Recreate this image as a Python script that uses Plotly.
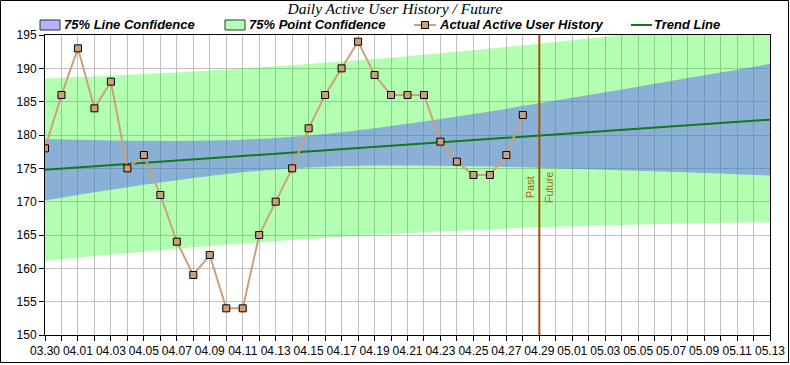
import plotly.graph_objects as go
import pandas as pd

# ---- data ----
start_date = "2023-03-30"
active_users = [178, 186, 193, 184, 188, 175, 177, 171, 164, 159,
                162, 154, 154, 165, 170, 175, 181, 186, 190, 194,
                189, 186, 186, 186, 179, 176, 174, 174, 177, 183]

band_start = "2023-03-30"
line_conf_upper = [179.40, 179.28, 179.18, 179.12, 179.11, 179.16, 179.30, 179.55,
                   179.92, 180.41, 181.00, 181.67, 182.39, 183.15, 183.93, 184.75,
                   185.57, 186.41, 187.25, 188.09, 188.95, 189.80, 190.67]
line_conf_lower = [170.20, 171.00, 171.78, 172.52, 173.21, 173.86, 174.40, 174.83,
                   175.14, 175.33, 175.42, 175.43, 175.39, 175.31, 175.21, 175.09,
                   174.95, 174.79, 174.63, 174.47, 174.29, 174.12, 173.93]
point_conf_upper = [188.49, 188.69, 188.90, 189.14, 189.39, 189.68, 189.98, 190.30,
                    190.65, 191.02, 191.41, 191.82, 192.26, 192.71, 193.19, 193.69,
                    194.21, 194.75, 195.30, 195.87, 196.46, 197.06, 197.68]
point_conf_lower = [161.11, 161.59, 162.06, 162.50, 162.93, 163.34, 163.72, 164.08,
                    164.41, 164.72, 165.01, 165.28, 165.52, 165.75, 165.95, 166.15,
                    166.31, 166.45, 166.58, 166.69, 166.78, 166.86, 166.92]

trend_dates = ["2023-03-30", "2023-05-13"]
trend_values = [174.8, 182.3]

split_date = "2023-04-29"
y_ticks = [150, 155, 160, 165, 170, 175, 180, 185, 190, 195]
legend_labels = ["75% Line Confidence", "75% Point Confidence",
                 "Actual Active User History", "Trend Line"]

dates = pd.date_range(start_date, periods=len(active_users), freq="D")
band_dates = list(pd.date_range(band_start, periods=len(line_conf_upper), freq="2D"))

FONT = "Arial, Liberation Sans, sans-serif"
TICKFONT = "Liberation Sans Narrow, Arial Narrow, Arial, sans-serif"
DAY = 86400000
GREEN_FILL = "rgba(0,255,0,0.3)"
BLUE_FILL = "rgba(92,79,255,0.45)"
ACTUAL = "#cda07a"
TREND = "#117a17"

W, H = 790, 365
L, R, T, B = 45, 20, 35, 30
pw, ph = W - L - R, H - T - B


def px(x):
    return (x - L) / pw


def py(y):
    return (H - B - y) / ph


fig = go.Figure()

# point confidence band
fig.add_trace(go.Scatter(x=band_dates, y=point_conf_lower, mode="lines",
                         line=dict(width=0, shape="spline"),
                         showlegend=False, hoverinfo="skip"))
fig.add_trace(go.Scatter(x=band_dates, y=point_conf_upper, mode="lines",
                         fill="tonexty", fillcolor=GREEN_FILL,
                         line=dict(width=0, shape="spline"),
                         showlegend=False, hoverinfo="skip"))
# line confidence band
fig.add_trace(go.Scatter(x=band_dates, y=line_conf_lower, mode="lines",
                         line=dict(width=0, shape="spline"),
                         showlegend=False, hoverinfo="skip"))
fig.add_trace(go.Scatter(x=band_dates, y=line_conf_upper, mode="lines",
                         fill="tonexty", fillcolor=BLUE_FILL,
                         line=dict(width=0, shape="spline"),
                         showlegend=False, hoverinfo="skip"))
# trend
fig.add_trace(go.Scatter(x=trend_dates, y=trend_values, mode="lines",
                         line=dict(color=TREND, width=2),
                         name=legend_labels[3], showlegend=False))
# actual
fig.add_trace(go.Scatter(
    x=dates, y=active_users, mode="lines+markers",
    line=dict(color=ACTUAL, width=2),
    marker=dict(symbol="square", size=7, color="#cd9f78",
                line=dict(color="black", width=1)),
    name=legend_labels[2], showlegend=False))

# past / future divider
fig.add_shape(type="line", xref="x", yref="paper",
              x0=split_date, x1=split_date, y0=0, y1=1,
              line=dict(color="#9c5500", width=2))
fig.add_annotation(x=split_date, y=172.2, text="Past", textangle=-90,
                   showarrow=False, xanchor="right", xshift=-1,
                   font=dict(family=FONT, size=11, color="#9c6a00"))
fig.add_annotation(x=split_date, y=172.2, text="Future", textangle=-90,
                   showarrow=False, xanchor="left", xshift=2,
                   font=dict(family=FONT, size=11, color="#9c6a00"))

# ---- manual legend ----
LEG_Y = 25
legfont = dict(family=FONT, size=13, color="black", weight="bold", style="italic")
for x0, col in [(40, "#b3b3ff"), (225, "#b3ffb3")]:
    fig.add_shape(type="rect", xref="paper", yref="paper",
                  x0=px(x0), x1=px(x0 + 20), y0=py(LEG_Y - 5), y1=py(LEG_Y + 5),
                  fillcolor=col, line=dict(color="#333333", width=1))
fig.add_shape(type="line", xref="paper", yref="paper",
              x0=px(414), x1=px(436), y0=py(LEG_Y), y1=py(LEG_Y),
              line=dict(color=ACTUAL, width=2))
fig.add_shape(type="rect", xref="paper", yref="paper",
              x0=px(421.5), x1=px(428.5), y0=py(LEG_Y - 3.5), y1=py(LEG_Y + 3.5),
              fillcolor="#cd9f78", line=dict(color="black", width=1))
fig.add_shape(type="line", xref="paper", yref="paper",
              x0=px(631), x1=px(652), y0=py(LEG_Y), y1=py(LEG_Y),
              line=dict(color=TREND, width=2))
for xt, lab in zip([63, 248, 438, 653], legend_labels):
    fig.add_annotation(xref="paper", yref="paper", x=px(xt), y=py(LEG_Y),
                       text=lab, showarrow=False, xanchor="left", yanchor="middle",
                       borderpad=0, font=legfont)

# outer frame
fig.add_shape(type="rect", xref="paper", yref="paper",
              x0=-(L - 0.5) / pw, x1=1 + (R - 1.5) / pw,
              y0=-(B - 2.5) / ph, y1=1 + (T - 0.5) / ph,
              line=dict(color="black", width=1), layer="above")

fig.update_layout(
    width=W, height=H,
    margin=dict(l=L, r=R, t=T, b=B, autoexpand=False),
    paper_bgcolor="white", plot_bgcolor="white",
    showlegend=False,
    title=dict(text="Daily Active User History / Future",
               x=0.5, xanchor="center", y=1 - 3 / H, yanchor="top",
               yref="container", pad=dict(t=0, b=0),
               font=dict(family="Liberation Serif, Times New Roman, serif",
                         size=15.5, color="black", style="italic")),
    font=dict(family=FONT, size=12, color="black"),
)
fig.update_xaxes(
    type="date", range=["2023-03-30", "2023-05-13"], automargin=False,
    tick0="2023-03-30", dtick=2 * DAY, tickformat="%m.%d",
    ticks="outside", ticklen=5, tickcolor="black",
    showgrid=True, gridcolor="#c0c0c0", gridwidth=1,
    minor=dict(dtick=DAY, tick0="2023-03-30", ticks="outside", ticklen=5,
               tickcolor="black", showgrid=True, gridcolor="#c0c0c0"),
    showline=True, linecolor="black", linewidth=1, mirror=True,
    zeroline=False, tickfont=dict(family=TICKFONT, size=12, color="black"))
fig.update_yaxes(
    range=[150, 195], tickvals=y_ticks, automargin=False,
    ticks="outside", ticklen=5, tickcolor="black",
    showgrid=True, gridcolor="#c0c0c0", gridwidth=1,
    showline=True, linecolor="black", linewidth=1, mirror=True,
    zeroline=False, tickfont=dict(family=TICKFONT, size=12, color="black"))

fig.write_html("out.html",
               config={"displayModeBar": False, "staticPlot": True},
               post_script="document.body.style.margin='0';"
                           "document.body.style.padding='0';")
